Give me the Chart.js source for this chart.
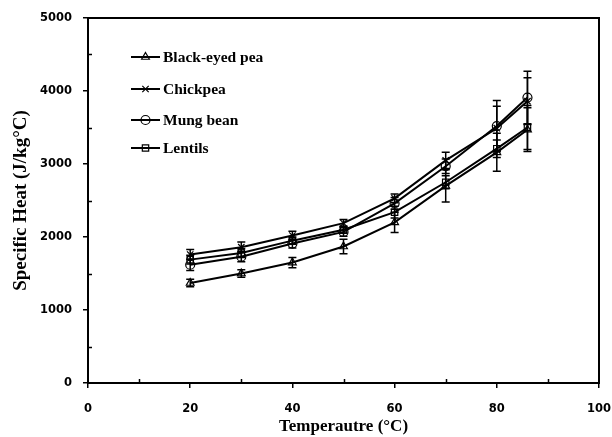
<!DOCTYPE html>
<html>
<head>
<meta charset="utf-8">
<script src="https://cdn.jsdelivr.net/npm/chart.js@4/dist/chart.umd.min.js"></script>
<style>
  html, body { margin: 0; padding: 0; background: #fff; }
  #wrap { width: 612px; height: 437px; }
</style>
</head>
<body>
<div id="wrap"><canvas id="heatChart" width="612" height="437"></canvas></div>
<script>
// temperature (°C)
var temps = [20, 30, 40, 50, 60, 70, 80, 86];

// specific heat (J/kg°C)
var blackEyed = [1370, 1500, 1650, 1870, 2200, 2700, 3160, 3470];
var chickpea  = [1760, 1860, 2020, 2190, 2530, 3050, 3490, 3860];
var mungBean  = [1620, 1730, 1910, 2070, 2460, 2970, 3520, 3910];
var lentils   = [1690, 1780, 1950, 2100, 2340, 2750, 3210, 3500];

// standard deviations
var errBlackEyed = [50, 50, 70, 100, 140, 220, 260, 300];
var errChickpea  = [70, 70, 60, 50, 60, 110, 300, 320];
var errMungBean  = [80, 70, 60, 60, 80, 100, 350, 360];
var errLentils   = [60, 60, 50, 50, 80, 90, 120, 300];

var names = ['Black-eyed pea', 'Chickpea', 'Mung bean', 'Lentils'];
var markers = ['triangle', 'crossRot', 'circle', 'rect'];
var seriesValues = [blackEyed, chickpea, mungBean, lentils];
var seriesErrors = [errBlackEyed, errChickpea, errMungBean, errLentils];

function toPoints(vals) {
    return temps.map(function (t, i) { return { x: t, y: vals[i] }; });
}

var datasets = names.map(function (n, k) {
    return {
        label: n,
        data: toPoints(seriesValues[k]),
        errors: seriesErrors[k],
        borderColor: '#000',
        backgroundColor: 'rgba(0,0,0,0)',
        borderWidth: 2,
        pointStyle: markers[k],
        pointRadius: 4.5,
        pointBorderWidth: 1.2,
        pointBorderColor: '#000',
        pointBackgroundColor: 'rgba(0,0,0,0)',
        tension: 0
    };
});

// error bars, drawn through the scales
var errorBars = {
    id: 'errorBars',
    afterDatasetsDraw: function (chart) {
        var ctx = chart.ctx, xs = chart.scales.x, ys = chart.scales.y;
        ctx.save();
        ctx.strokeStyle = '#000';
        ctx.lineWidth = 1.5;
        chart.data.datasets.forEach(function (ds) {
            ds.data.forEach(function (p, i) {
                var e = ds.errors[i];
                var px = xs.getPixelForValue(p.x);
                var top = ys.getPixelForValue(p.y + e);
                var bot = ys.getPixelForValue(p.y - e);
                ctx.beginPath();
                ctx.moveTo(px, top); ctx.lineTo(px, bot);
                ctx.moveTo(px - 4, top); ctx.lineTo(px + 4, top);
                ctx.moveTo(px - 4, bot); ctx.lineTo(px + 4, bot);
                ctx.stroke();
            });
        });
        ctx.restore();
    }
};

// box round the plot, minor ticks and legend inside the plot
var frameAndLegend = {
    id: 'frameAndLegend',
    afterDraw: function (chart) {
        var ctx = chart.ctx, a = chart.chartArea;
        var xs = chart.scales.x, ys = chart.scales.y;
        ctx.save();
        ctx.strokeStyle = '#000';
        ctx.lineWidth = 2;
        ctx.strokeRect(a.left, a.top, a.right - a.left, a.bottom - a.top);

        ctx.lineWidth = 1.5;
        ctx.beginPath();
        for (var v = 500; v < 5000; v += 1000) {
            var py = Math.round(ys.getPixelForValue(v)) + 0.5;
            ctx.moveTo(a.left, py); ctx.lineTo(a.left + 4, py);
        }
        for (var t = 10; t < 100; t += 20) {
            var px = Math.round(xs.getPixelForValue(t)) + 0.5;
            ctx.moveTo(px, a.bottom); ctx.lineTo(px, a.bottom - 4);
        }
        ctx.stroke();

        ctx.font = 'bold 15.5px "Liberation Serif", "Times New Roman", serif';
        ctx.textBaseline = 'middle';
        var rowY = [57, 89, 120, 148];
        chart.data.datasets.forEach(function (ds, k) {
            var y = rowY[k];
            ctx.lineWidth = 2;
            ctx.beginPath();
            ctx.moveTo(131, y); ctx.lineTo(160, y);
            ctx.stroke();
            ctx.lineWidth = 1.2;
            ctx.fillStyle = 'rgba(0,0,0,0)';
            Chart.helpers.drawPoint(ctx, {
                pointStyle: ds.pointStyle, radius: 4.5, borderWidth: 1.2, rotation: 0
            }, 145.5, y);
            ctx.fillStyle = '#000';
            ctx.fillText(ds.label, 163, y + 1);
        });
        ctx.restore();
    }
};

var tickFont = { family: '"DejaVu Sans", Verdana, sans-serif', size: 11.5, weight: 'bold' };
var xTitleFont = { family: '"Liberation Serif", "Times New Roman", serif', size: 17, weight: 'bold' };
var yTitleFont = { family: '"Liberation Serif", "Times New Roman", serif', size: 19, weight: 'bold' };
var plainNumber = function (v) { return String(v); };

new Chart(document.getElementById('heatChart'), {
    type: 'line',
    data: { datasets: datasets },
    options: {
        responsive: false,
        animation: false,
        layout: { padding: { top: 18, right: 13, left: 0, bottom: 0 } },
        plugins: {
            legend: { display: false },
            tooltip: { enabled: false }
        },
        scales: {
            x: {
                type: 'linear',
                min: 0, max: 100,
                ticks: { stepSize: 20, color: '#000', font: tickFont, padding: 14, callback: plainNumber },
                grid: { drawOnChartArea: false, tickLength: 5, color: '#000', lineWidth: 1.5 },
                border: { color: '#000', width: 2 },
                title: { display: true, text: 'Temperautre (°C)', color: '#000', font: xTitleFont, padding: { top: 0, bottom: 0 } },
                afterFit: function (s) { s.height = 54; s.paddingLeft = 0; s.paddingRight = 0; }
            },
            y: {
                min: 0, max: 5000,
                ticks: { stepSize: 1000, color: '#000', font: tickFont, padding: 11, callback: plainNumber },
                grid: { drawOnChartArea: false, tickLength: 5, color: '#000', lineWidth: 1.5 },
                border: { color: '#000', width: 2 },
                title: { display: true, text: 'Specific Heat (J/kg°C)', color: '#000', font: yTitleFont, padding: { top: 10, bottom: 0 } },
                afterFit: function (s) { s.width = 88; s.paddingTop = 0; s.paddingBottom = 0; }
            }
        }
    },
    plugins: [errorBars, frameAndLegend]
});
</script>
</body>
</html>
